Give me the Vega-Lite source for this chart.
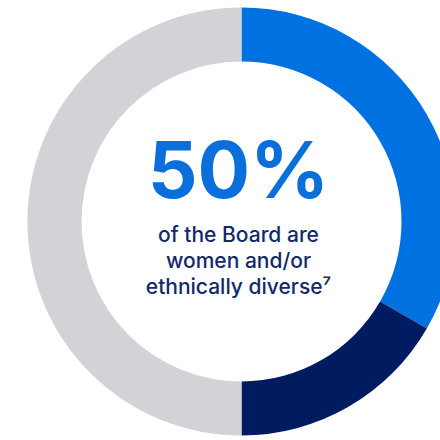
{
  "$schema": "https://vega.github.io/schema/vega-lite/v6.json",
  "width": 483,
  "height": 443,
  "padding": 0,
  "autosize": {"type": "none"},
  "background": "white",
  "config": {"view": {"stroke": null}},
  "layer": [
    {
      "data": {"values": [
        {"group": "Women", "value": 4, "order": 1},
        {"group": "Ethnically diverse", "value": 2, "order": 2},
        {"group": "Other", "value": 6, "order": 3}
      ]},
      "mark": {"type": "arc", "outerRadius": 214, "innerRadius": 160},
      "encoding": {
        "theta": {"field": "value", "type": "quantitative", "stack": true},
        "order": {"field": "order", "type": "quantitative"},
        "color": {
          "field": "group", "type": "nominal", "legend": null,
          "scale": {"domain": ["Women", "Ethnically diverse", "Other"], "range": ["#0071E0", "#001B60", "#D1D3D6"]}
        }
      }
    },
    {
      "data": {"values": [{"label": "50%"}]},
      "mark": {"type": "text", "font": "Inter", "fontWeight": "bold", "fontSize": 78, "color": "#0A6FDB", "baseline": "middle", "align": "center", "dx": -3, "dy": -47},
      "encoding": {"text": {"field": "label"}}
    },
    {
      "data": {"values": [{"label": "of the Board are"}, {"label": "women and/or"}, {"label": "ethnically diverse⁷"}]},
      "mark": {"type": "text", "font": "Inter", "fontWeight": 500, "fontSize": 21, "color": "#12296B", "baseline": "middle", "align": "center", "dx": -3},
      "encoding": {
        "text": {"field": "label"},
        "y": {"field": "label", "type": "ordinal", "sort": null, "axis": null, "scale": {"type": "point", "padding": 0, "domain": ["of the Board are", "women and/or", "ethnically diverse⁷"], "range": [236, 288]}}
      }
    }
  ]
}
